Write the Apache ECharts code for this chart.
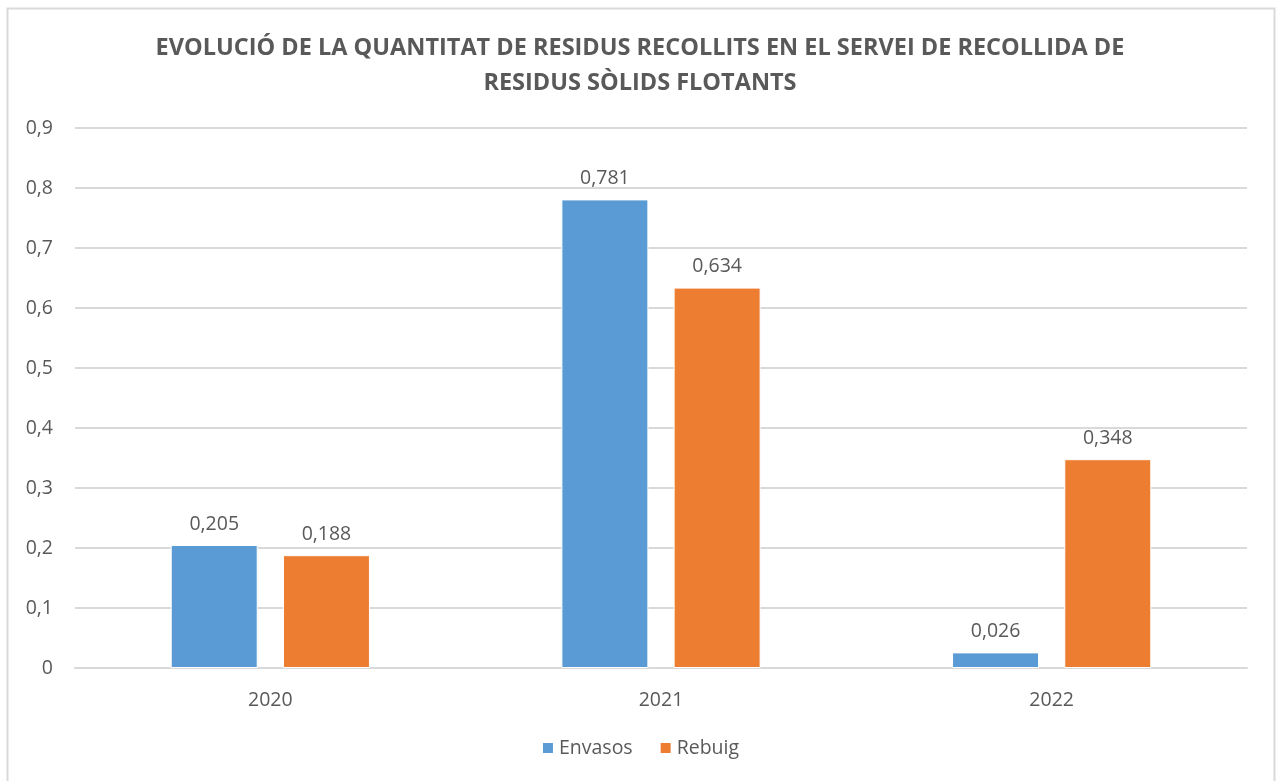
<!DOCTYPE html>
<html>
<head>
<meta charset="utf-8">
<script src="https://cdn.jsdelivr.net/npm/echarts@6/dist/echarts.min.js"></script>
<style>
html,body{margin:0;padding:0;background:#fff;}
#chart{width:1280px;height:781px;}
</style>
</head>
<body>
<div id="chart"></div>
<script>
const titleText = "EVOLUCIÓ DE LA QUANTITAT DE RESIDUS RECOLLITS EN EL SERVEI DE RECOLLIDA DE\nRESIDUS SÒLIDS FLOTANTS";
const categories = ["2020", "2021", "2022"];
const envasos = [0.205, 0.781, 0.026];
const rebuig = [0.188, 0.634, 0.348];
const seriesNames = ["Envasos", "Rebuig"];

const fontFam = "'Open Sans', 'Liberation Sans', sans-serif";
const txt = "#595959";
const fmt = v => String(v).replace('.', ',');

const chart = echarts.init(document.getElementById('chart'));
chart.setOption({
  animation: false,
  backgroundColor: '#fff',
  graphic: [{
    type: 'rect',
    shape: {x: 7.5, y: 8.5, width: 1267, height: 800},
    style: {fill: 'none', stroke: '#d9d9d9', lineWidth: 2},
    silent: true, z: -1
  }],
  title: {
    text: titleText,
    left: 'center',
    top: 26,
    textStyle: {fontFamily: fontFam, fontSize: 23.5, fontWeight: 'bold', color: txt, lineHeight: 35}
  },
  legend: {
    data: seriesNames,
    bottom: 18,
    left: 'center',
    itemWidth: 12,
    itemHeight: 12,
    itemGap: 26,
    icon: 'rect',
    textStyle: {fontFamily: fontFam, fontSize: 19.5, color: txt}
  },
  grid: {left: 75, right: 33, top: 128, bottom: 113, containLabel: false},
  xAxis: {
    type: 'category',
    data: categories,
    axisLine: {show: true, lineStyle: {color: '#d9d9d9', width: 2}},
    axisTick: {show: false},
    axisLabel: {margin: 22, fontFamily: fontFam, fontSize: 19.5, color: txt}
  },
  yAxis: {
    type: 'value',
    min: 0, max: 0.9, interval: 0.1,
    axisLine: {show: false},
    axisTick: {show: false},
    splitLine: {lineStyle: {color: '#d9d9d9', width: 2}},
    axisLabel: {margin: 22, fontFamily: fontFam, fontSize: 19.5, color: txt,
      formatter: v => fmt(Math.round(v * 10) / 10)}
  },
  color: ['#5B9BD5', '#ED7D31'],
  series: [
    {name: seriesNames[0], type: 'bar', data: envasos, barWidth: 87, barGap: '29%',
     itemStyle: {color: '#5B9BD5', borderColor: '#fff', borderWidth: 1},
     label: {show: true, position: 'top', distance: 11, fontFamily: fontFam, fontSize: 19.5, color: txt, formatter: p => fmt(p.value)}},
    {name: seriesNames[1], type: 'bar', data: rebuig, barWidth: 87, barGap: '29%',
     itemStyle: {color: '#ED7D31', borderColor: '#fff', borderWidth: 1},
     label: {show: true, position: 'top', distance: 11, fontFamily: fontFam, fontSize: 19.5, color: txt, formatter: p => fmt(p.value)}}
  ]
});
</script>
</body>
</html>
